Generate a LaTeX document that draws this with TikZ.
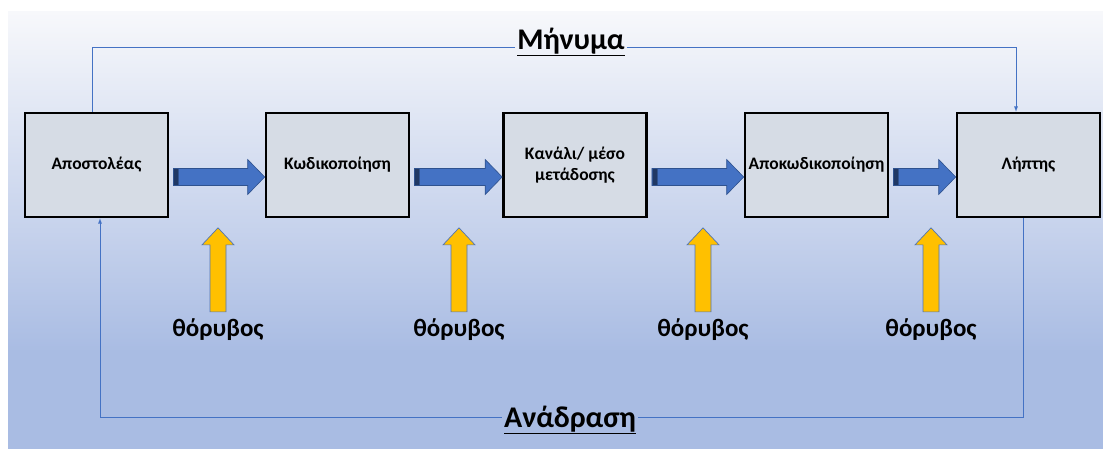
\documentclass[tikz,border=0pt]{standalone}
\usepackage{fontspec}
\setmainfont{Carlito}
\usetikzlibrary{calc}
\definecolor{bgtop}{HTML}{F7F8FB}
\definecolor{bgmid}{HTML}{C6D2EC}
\definecolor{bgbot}{HTML}{A9BCE3}
\definecolor{boxfill}{HTML}{D6DCE5}
\definecolor{arrblue}{HTML}{4472C4}
\definecolor{arrdark}{HTML}{2F528F}
\definecolor{arrtail}{HTML}{203864}
\definecolor{noisey}{HTML}{FFC000}
\definecolor{linec}{HTML}{4472C4}
\pgfdeclareverticalshading{bgshade}{100bp}{color(0bp)=(bgbot); color(25bp)=(bgbot); color(36bp)=(bgbot); color(50bp)=(bgmid); color(75bp)=(bgtop); color(100bp)=(bgtop)}
\tikzset{
  stage/.style={draw=black, line width=2.6pt, fill=boxfill, minimum width=143pt, minimum height=104pt, inner sep=0pt, align=center, font=\fontsize{17.5}{21}\selectfont\bfseries},
  noiselabel/.style={font=\fontsize{25}{28}\selectfont\bfseries, inner sep=0pt},
  title/.style={font=\fontsize{30}{34}\selectfont\bfseries, inner sep=2pt},
  conn/.style={draw=linec, line width=0.8pt},
  blockarrow/.style={fill=arrblue, draw=arrdark, line width=0.6pt},
  tailband/.style={fill=arrtail, draw=arrdark, line width=0.4pt},
  noisearrow/.style={fill=noisey, draw=arrblue!80!gray, line width=0.7pt},
}
\newcommand\blockarr[2]{%
  \path let \p1=($(#1.east)+(4pt,-12pt)$), \p2=($(#2.west)+(0,-12pt)$) in
    [blockarrow] (\x1,\y1+8.5pt) -- (\x2-17pt,\y1+8.5pt) -- (\x2-17pt,\y1+17.5pt) -- (\x2,\y1)
      -- (\x2-17pt,\y1-17.5pt) -- (\x2-17pt,\y1-8.5pt) -- (\x1,\y1-8.5pt) -- cycle;
  \path let \p1=($(#1.east)+(4pt,-12pt)$) in
    [tailband] (\x1,\y1-8.5pt) rectangle (\x1+5pt,\y1+8.5pt);}
\newcommand\noisearr[1]{%
  \path let \p1=($(#1.north)+(0,7pt)$) in
    [noisearrow] (\x1-8pt,\y1) -- (\x1-8pt,\y1+67pt) -- (\x1-16pt,\y1+67pt) -- (\x1,\y1+84pt)
      -- (\x1+16pt,\y1+67pt) -- (\x1+8pt,\y1+67pt) -- (\x1+8pt,\y1) -- cycle;}
\begin{document}
\begin{tikzpicture}[x=1pt,y=1pt]
\useasboundingbox (0,0) rectangle (1103,448);
\fill[white] (0,0) rectangle (1103,448);
\shade[shading=bgshade] (8,0) rectangle (1103,436);
% stages
\node[stage] (b1) at (96.5,283) {Αποστολέας};
\node[stage] (b2) at (337.5,283) {Κωδικοποίηση};
\node[stage] (b3) at (575,283) {Κανάλι/ μέσο\\μετάδοσης};
\node[stage] (b4) at (816.5,283) {Αποκωδικοποίηση};
\node[stage] (b5) at (1028.5,283) {Λήπτης};
% block arrows
\blockarr{b1}{b2}
\blockarr{b2}{b3}
\blockarr{b3}{b4}
\blockarr{b4}{b5}
% noise
\node[noiselabel] (n1) at (218,118) {θόρυβος};
\node[noiselabel] (n2) at (459,118) {θόρυβος};
\node[noiselabel] (n3) at (703,118) {θόρυβος};
\node[noiselabel] (n4) at (931,118) {θόρυβος};
\noisearr{n1}
\noisearr{n2}
\noisearr{n3}
\noisearr{n4}
% message / feedback
\node[title] (msg) at (571,406) {\underline{Μήνυμα}};
\node[title] (fb) at (570,28) {\underline{Ανάδραση}};
\draw[conn] ([xshift=-4.5pt]b1.north) |- ([yshift=-5pt]msg.west);
\draw[conn,-latex] ([yshift=-5pt]msg.east) -| ([xshift=-12.5pt]b5.north);
\draw[conn] ([xshift=-5.5pt]b5.south) |- ([yshift=3pt]fb.east);
\draw[conn,-latex] ([yshift=3pt]fb.west) -| ([xshift=3.5pt]b1.south);
\end{tikzpicture}
\end{document}
